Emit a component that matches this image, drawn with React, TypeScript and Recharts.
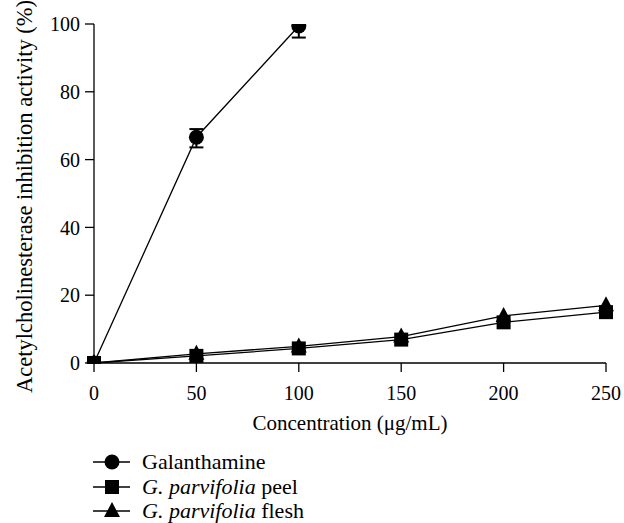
import React from 'react';
import {
  LineChart,
  Line,
  XAxis,
  YAxis,
  ErrorBar,
  Legend
} from 'recharts';

// concentration (ug/mL)
const concentrations = [0, 50, 100, 150, 200, 250];
const galanthamine = [0, 66.6, 99.4, null, null, null];
const galanthamineErr = [[0, 0], [3.0, 2.4], [3.4, 0], null, null, null];
const peel = [0, 2.1, 4.3, 6.9, 12.0, 15.0];
const flesh = [0, 2.7, 4.9, 7.8, 13.9, 17.0];

const xTicks = [0, 50, 100, 150, 200, 250];
const yTicks = [0, 20, 40, 60, 80, 100];

const FONT = "'Liberation Serif', serif";

const data = concentrations.map((c, i) => ({
  conc: c,
  galanthamine: galanthamine[i],
  galErr: galanthamineErr[i],
  peel: peel[i],
  flesh: flesh[i]
}));

const CircleDot = (props: any) => {
  const { cx, cy } = props;
  if (cx == null || cy == null) return null;
  return <circle key={props.key} cx={cx} cy={cy} r={7.5} fill="#000" />;
};

const SquareDot = (props: any) => {
  const { cx, cy } = props;
  if (cx == null || cy == null) return null;
  return <rect key={props.key} x={cx - 7} y={cy - 7} width={14} height={14} fill="#000" />;
};

const TriangleDot = (props: any) => {
  const { cx, cy } = props;
  if (cx == null || cy == null) return null;
  return (
    <polygon
      key={props.key}
      points={`${cx},${cy - 9} ${cx - 8},${cy + 6} ${cx + 8},${cy + 6}`}
      fill="#000"
    />
  );
};

const legendItems = [
  { shape: 'circle', label: <>Galanthamine</> },
  { shape: 'square', label: <><i>G. parvifolia</i> peel</> },
  { shape: 'triangle', label: <><i>G. parvifolia</i> flesh</> }
];

const LegendIcon = ({ shape }: { shape: string }) => (
  <svg width={49} height={20} style={{ display: 'block' }}>
    <line x1={0} y1={10} x2={37} y2={10} stroke="#000" strokeWidth={1.3} />
    {shape === 'circle' && <circle cx={19} cy={10} r={7.5} fill="#000" />}
    {shape === 'square' && <rect x={12} y={3} width={14} height={14} fill="#000" />}
    {shape === 'triangle' && <polygon points="19,1 11,16 27,16" fill="#000" />}
  </svg>
);

const renderLegend = () => (
  <div
    style={{
      height: 90,
      paddingTop: 17,
      boxSizing: 'border-box',
      fontFamily: FONT,
      fontSize: 22,
      color: '#000'
    }}
  >
    {legendItems.map((item, i) => (
      <div key={i} style={{ display: 'flex', alignItems: 'center', height: 24.5, whiteSpace: 'nowrap' }}>
        <LegendIcon shape={item.shape} />
        <span>{item.label}</span>
      </div>
    ))}
  </div>
);

const YLabel = ({ viewBox }: any) => {
  const x = 24;
  const y = viewBox.y + viewBox.height / 2 + 3;
  return (
    <text
      x={x}
      y={y}
      transform={`rotate(-90, ${x}, ${y})`}
      textAnchor="middle"
      dominantBaseline="central"
      fontFamily={FONT}
      fontSize={22.5}
      fill="#000"
    >
      Acetylcholinesterase inhibition activity (%)
    </text>
  );
};

export default function App() {
  const tickStyle = { fill: '#000', fontFamily: FONT, fontSize: 20 };
  return (
    <div style={{ position: 'absolute', left: 0, top: 0, background: '#fff' }}>
      <LineChart
        width={624}
        height={523}
        data={data}
        margin={{ top: 24, right: 18, left: 0, bottom: 0 }}
      >
        <XAxis
          dataKey="conc"
          type="number"
          domain={[0, 250]}
          ticks={xTicks}
          height={70}
          tickSize={9}
          tickMargin={14}
          tick={tickStyle}
          stroke="#000"
          strokeWidth={1.3}
          label={{
            value: 'Concentration (μg/mL)',
            position: 'insideBottom',
            offset: 3,
            fontFamily: FONT,
            fontSize: 21,
            fill: '#000'
          }}
        />
        <YAxis
          type="number"
          domain={[0, 100]}
          ticks={yTicks}
          allowDataOverflow
          width={94}
          tickSize={9}
          tickMargin={5}
          tick={tickStyle}
          stroke="#000"
          strokeWidth={1.3}
          label={<YLabel />}
        />
        <Legend
          verticalAlign="bottom"
          align="left"
          content={renderLegend}
          wrapperStyle={{ left: 93, width: 340 }}
        />
        <Line
          dataKey="galanthamine"
          stroke="#000"
          strokeWidth={1.3}
          dot={<CircleDot />}
          activeDot={false}
          isAnimationActive={false}
        >
          <ErrorBar dataKey="galErr" width={7} stroke="#000" strokeWidth={2} direction="y" />
        </Line>
        <Line
          dataKey="flesh"
          stroke="#000"
          strokeWidth={1.3}
          dot={<TriangleDot />}
          activeDot={false}
          isAnimationActive={false}
        />
        <Line
          dataKey="peel"
          stroke="#000"
          strokeWidth={1.3}
          dot={<SquareDot />}
          activeDot={false}
          isAnimationActive={false}
        />
      </LineChart>
    </div>
  );
}
